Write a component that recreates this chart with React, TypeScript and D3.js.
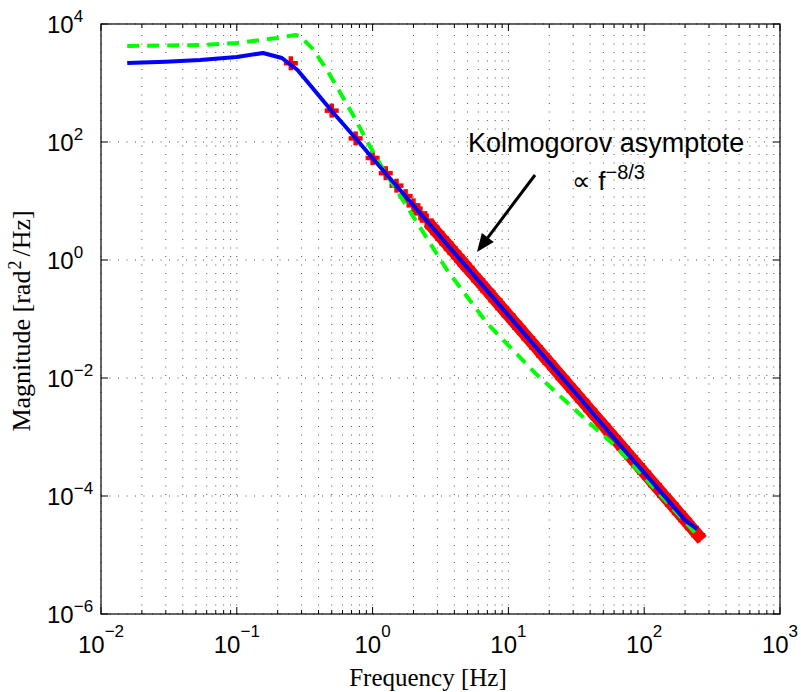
import React from "react";
import * as d3 from "d3";

// ---- data ----
const blueFreq = [0.0156, 0.03, 0.0536, 0.1, 0.156, 0.215, 0.28, 0.5, 0.75, 1, 2, 5, 10, 30, 63, 120, 200, 245];
const blueMag = [2180, 2300, 2450, 2760, 3220, 2650, 1660, 335, 116, 53, 8.4, 0.73, 0.115, 0.0062, 8.4e-4, 1.53e-4, 3.9e-5, 2.75e-5];

const greenFreq = [0.0156, 0.0536, 0.1, 0.198, 0.269, 0.29, 0.358, 0.462, 0.575, 0.718, 0.925, 1.17, 3.53, 6.95, 15.7, 35.4, 63, 245];
const greenMag = [4240, 4400, 4760, 5790, 6520, 6270, 3920, 1660, 700, 287, 96, 37.7, 0.678, 0.0855, 0.0122, 2.18e-3, 6.6e-4, 2.2e-5];

const redFreq = [0.25, 0.5, 0.75, 1, 1.25, 1.5, 1.75, 2, 2.25, 2.5, 2.75, 3, 3.25, 3.5, 3.75, 4, 4.25, 4.5, 4.75, 5,
  6, 7, 8, 9, 10, 12, 14, 16, 18, 20, 25, 30, 35, 40, 50, 60, 70, 80, 90, 100, 120, 140, 160, 180, 200, 225, 250];
const redMag = [2160, 340, 115, 53.6, 29.6, 18.2, 12.1, 8.44, 6.17, 4.66, 3.61, 2.86, 2.31, 1.9, 1.58, 1.33, 1.13, 0.971, 0.84, 0.733,
  0.451, 0.299, 0.209, 0.153, 0.1155, 0.0711, 0.0471, 0.033, 0.0241, 0.0182, 0.01, 0.00617, 0.00409, 0.00286, 0.00158,
  9.71e-4, 6.44e-4, 4.51e-4, 3.3e-4, 2.49e-4, 1.53e-4, 1.014e-4, 7.1e-5, 5.19e-5, 3.92e-5, 2.86e-5, 2.16e-5];
const redBandStart = 2.75; // crosses overlap into a continuous band from here on

const xTickExp = [-2, -1, 0, 1, 2, 3];
const yTickExp = [-6, -4, -2, 0, 2, 4];

const xLabel = "Frequency [Hz]";
const yLabelPre = "Magnitude [rad";
const yLabelSup = "2";
const yLabelPost = "/Hz]";
const annotLine1 = "Kolmogorov asymptote";
const annotProp = "\u221D f";
const annotExp = "\u22128/3";
// annotation anchors in data coords
const arrowTail = [15.7, 27.6];
const arrowTip = [5.87, 1.37];
const annotText1 = [5.05, 67.8];
const annotText2 = [29.4, 15.3];

const W = 801, H = 692;
const L = 101, R = 780, T = 24, B = 614;

const sans = "'Liberation Sans', Arial, Helvetica, sans-serif";
const serif = "'Liberation Serif', 'Times New Roman', serif";

export default function App() {
  const x = d3.scaleLog().domain([1e-2, 1e3]).range([L, R]);
  const y = d3.scaleLog().domain([1e-6, 1e4]).range([B, T]);

  const minorX: number[] = [];
  for (let e = -2; e < 3; e++) for (let k = 2; k <= 9; k++) minorX.push(k * Math.pow(10, e));

  const line = d3.line<[number, number]>().x(d => x(d[0])).y(d => y(d[1]));
  const bluePts = blueFreq.map((f, i) => [f, blueMag[i]] as [number, number]);
  const greenPts = greenFreq.map((f, i) => [f, greenMag[i]] as [number, number]);
  const redPts = redFreq.map((f, i) => [f, redMag[i]] as [number, number]);
  const bandPts = redPts.filter(p => p[0] >= redBandStart);

  const cs = 7;
  const tx = x(arrowTail[0]), ty = y(arrowTail[1]);
  const hx = x(arrowTip[0]), hy = y(arrowTip[1]);
  const ang = Math.atan2(hy - ty, hx - tx);
  const hl = 18, hw = 7.5;
  const bx = hx - hl * Math.cos(ang), by = hy - hl * Math.sin(ang);
  const head = `M${hx},${hy}L${bx + hw * Math.sin(ang)},${by - hw * Math.cos(ang)}L${bx - hw * Math.sin(ang)},${by + hw * Math.cos(ang)}Z`;

  return (
    <svg width={W} height={H} style={{ position: "absolute", left: 0, top: 0, background: "#fff" }}>
      <rect x={0} y={0} width={W} height={H} fill="#fff" />
      {/* grid */}
      <g stroke="#000" strokeWidth={0.9} strokeDasharray="1,7.5" opacity={0.75}>
        {[...xTickExp.map(e => Math.pow(10, e)), ...minorX].map((v, i) => (
          <line key={"gx" + i} x1={x(v)} x2={x(v)} y1={B} y2={T} />
        ))}
        {yTickExp.map((e, i) => (
          <line key={"gy" + i} x1={L} x2={R} y1={y(Math.pow(10, e))} y2={y(Math.pow(10, e))} />
        ))}
      </g>
      {/* ticks */}
      <g stroke="#000" strokeWidth={1}>
        {xTickExp.map((e, i) => {
          const px = x(Math.pow(10, e));
          return (
            <g key={"tx" + i}>
              <line x1={px} x2={px} y1={B} y2={B - 7} />
              <line x1={px} x2={px} y1={T} y2={T + 7} />
            </g>
          );
        })}
        {minorX.map((v, i) => (
          <g key={"mx" + i}>
            <line x1={x(v)} x2={x(v)} y1={B} y2={B - 4} />
            <line x1={x(v)} x2={x(v)} y1={T} y2={T + 4} />
          </g>
        ))}
        {yTickExp.map((e, i) => {
          const py = y(Math.pow(10, e));
          return (
            <g key={"ty" + i}>
              <line x1={L} x2={L + 7} y1={py} y2={py} />
              <line x1={R} x2={R - 7} y1={py} y2={py} />
            </g>
          );
        })}
      </g>
      {/* red crosses and band */}
      <path d={line(bandPts) || ""} fill="none" stroke="#ff0000" strokeWidth={12} strokeLinecap="square" />
      <g stroke="#ff0000" strokeWidth={4.5}>
        {redPts.map((p, i) => (
          <g key={"r" + i}>
            <line x1={x(p[0]) - cs} x2={x(p[0]) + cs} y1={y(p[1])} y2={y(p[1])} />
            <line x1={x(p[0])} x2={x(p[0])} y1={y(p[1]) - cs} y2={y(p[1]) + cs} />
          </g>
        ))}
      </g>
      <path d={line(greenPts) || ""} fill="none" stroke="#00ff00" strokeWidth={4} strokeDasharray="12,8" />
      <path d={line(bluePts) || ""} fill="none" stroke="#0000ff" strokeWidth={4} strokeLinejoin="round" />
      {/* axes box */}
      <rect x={L} y={T} width={R - L} height={B - T} fill="none" stroke="#000" strokeWidth={1.2} />
      {/* tick labels */}
      <g fontFamily={sans} fill="#000">
        {xTickExp.map((e, i) => (
          <text key={"lx" + i} x={x(Math.pow(10, e))} y={653} textAnchor="middle" fontSize={24}>
            10<tspan dy={-16} fontSize={17}>{e < 0 ? "\u2212" + Math.abs(e) : String(e)}</tspan>
          </text>
        ))}
        {yTickExp.map((e, i) => (
          <text key={"ly" + i} x={47} y={y(Math.pow(10, e)) + 9} textAnchor="start" fontSize={24}>
            10<tspan dy={-11} fontSize={17}>{e < 0 ? "\u2212" + Math.abs(e) : String(e)}</tspan>
          </text>
        ))}
      </g>
      {/* axis labels */}
      <text x={428} y={686} textAnchor="middle" fontFamily={serif} fontSize={25}>{xLabel}</text>
      <text transform={`translate(30,${(T + B) / 2 + 2}) rotate(-90)`} textAnchor="middle" fontFamily={serif} fontSize={26}>
        {yLabelPre}<tspan dx={1} dy={-9} fontSize={18}>{yLabelSup}</tspan><tspan dx={4} dy={9}>{yLabelPost}</tspan>
      </text>
      {/* annotation */}
      <line x1={tx} y1={ty} x2={bx} y2={by} stroke="#000" strokeWidth={3} />
      <path d={head} fill="#000" />
      <text x={x(annotText1[0])} y={y(annotText1[1])} fontFamily={sans} fontSize={27}>{annotLine1}</text>
      <text x={x(annotText2[0])} y={y(annotText2[1])} fontFamily={sans} fontSize={26}>
        {annotProp}<tspan dy={-11} fontSize={20}>{annotExp}</tspan>
      </text>
    </svg>
  );
}
